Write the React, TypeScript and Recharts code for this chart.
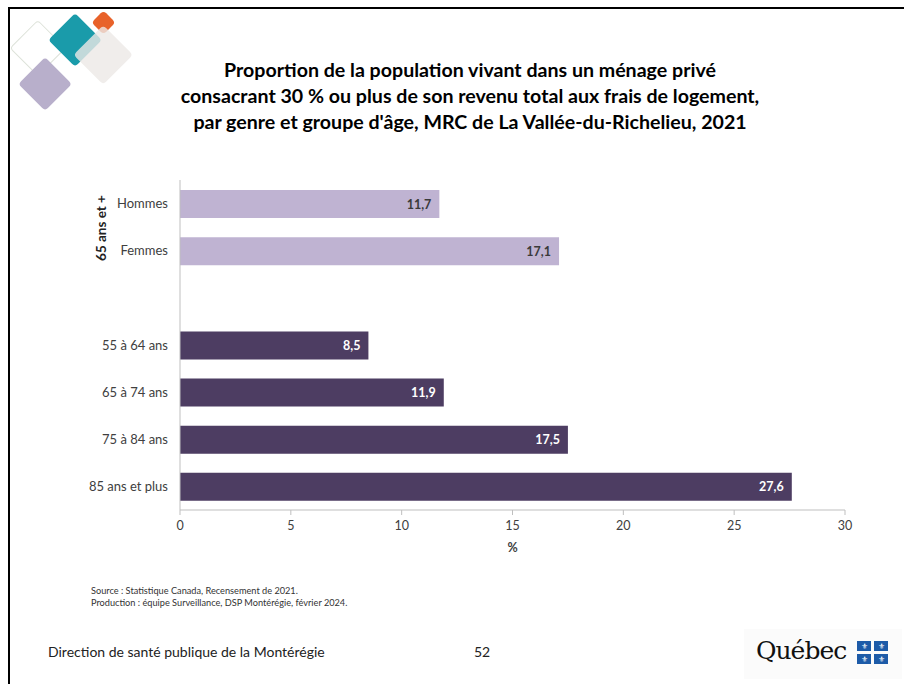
import React from "react";
import { BarChart, Bar, XAxis, YAxis, Cell, LabelList } from "recharts";

// rows, top to bottom; the blank row separates the two groups
const categories = ["Hommes", "Femmes", " ", "55 à 64 ans", "65 à 74 ans", "75 à 84 ans", "85 ans et plus"];
const values: (number | null)[] = [11.7, 17.1, null, 8.5, 11.9, 17.5, 27.6];
const groups = ["sexe", "sexe", "none", "age", "age", "age", "age"];
const xTicks = [0, 5, 10, 15, 20, 25, 30];

const FONT = "Lato, 'Open Sans', sans-serif";
const LIGHT = "#BFB3D2";
const DARK = "#4D3D62";

const data = categories.map((c, i) => ({ cat: c, value: values[i], group: groups[i] }));

const fmt = (v: unknown) => (v == null ? "" : Number(v).toFixed(1).replace(".", ","));

function ValueLabel(props: any) {
  const { x, y, width, height, value, index } = props;
  if (value == null) return null;
  const light = data[index].group === "sexe";
  return (
    <text
      x={x + width - 8}
      y={y + height / 2}
      textAnchor="end"
      dominantBaseline="central"
      fill={light ? "#3A3A3A" : "#FFFFFF"}
      fontSize={12.5}
      fontWeight="bold"
      fontFamily={FONT}
    >
      {fmt(value)}
    </text>
  );
}

function Diamond({ cx, cy, r, color, opacity = 1, outline = false }: any) {
  const s = r * Math.SQRT2;
  return (
    <div
      style={{
        position: "absolute",
        left: cx - s / 2,
        top: cy - s / 2,
        width: s,
        height: s,
        transform: "rotate(45deg)",
        borderRadius: 4,
        background: outline ? "transparent" : color,
        border: outline ? `1.5px solid ${color}` : "none",
        boxSizing: "border-box",
        opacity,
      }}
    />
  );
}

export default function App() {
  return (
    <div style={{ position: "absolute", left: 0, top: 0, width: 904, height: 684, background: "#fff", fontFamily: FONT, overflow: "hidden" }}>
      {/* slide frame */}
      <div style={{ position: "absolute", left: 8, top: 7, width: 896, height: 677, borderTop: "2px solid #000", borderLeft: "2px solid #000" }} />

      {/* corner decoration */}
      <Diamond cx={38} cy={48} r={28} color="#DDE2D9" outline />
      <Diamond cx={45} cy={84} r={27} color="#B8AFCB" />
      <Diamond cx={75} cy={40} r={27} color="#1A9BAA" />
      <Diamond cx={103} cy={22} r={12} color="#E8622A" />
      <Diamond cx={103} cy={55} r={30} color="#ECE8E6" opacity={0.8} />

      <div style={{ position: "absolute", left: 0, top: 57, width: 940, textAlign: "center", fontSize: 19.6, fontWeight: "bold", lineHeight: "26px", color: "#000" }}>
        Proportion de la population vivant dans un ménage privé
        <br />
        consacrant 30 % ou plus de son revenu total aux frais de logement,
        <br />
        par genre et groupe d'âge, MRC de La Vallée-du-Richelieu, 2021
      </div>

      <div style={{ position: "absolute", left: 0, top: 0 }}>
        <BarChart
          width={904}
          height={560}
          layout="vertical"
          data={data}
          margin={{ top: 180, right: 59, bottom: 0, left: 0 }}
          barSize={28}
        >
          <XAxis
            type="number"
            domain={[0, 30]}
            ticks={xTicks}
            interval={0}
            height={50}
            tick={{ fill: "#404040", fontSize: 12.5, fontFamily: FONT }}
            axisLine={{ stroke: "#BFBFBF" }}
            tickLine={{ stroke: "#BFBFBF" }}
            tickSize={5}
            tickMargin={6}
            label={{ value: "%", position: "insideBottom", offset: 8, fill: "#404040", fontSize: 12.5, fontWeight: "bold", fontFamily: FONT }}
          />
          <YAxis
            type="category"
            dataKey="cat"
            width={180}
            tick={{ fill: "#404040", fontSize: 13, fontFamily: FONT }}
            axisLine={{ stroke: "#BFBFBF" }}
            tickLine={false}
            tickMargin={6}
          />
          <Bar dataKey="value" isAnimationActive={false}>
            {data.map((d, i) => (
              <Cell key={i} fill={d.group === "sexe" ? LIGHT : DARK} />
            ))}
            <LabelList dataKey="value" content={<ValueLabel />} />
          </Bar>
        </BarChart>
      </div>

      {/* group label */}
      <div
        style={{
          position: "absolute",
          left: 101,
          top: 228,
          transform: "translate(-50%, -50%) rotate(-90deg)",
          fontSize: 13.5,
          fontWeight: "bold",
          color: "#222",
          whiteSpace: "nowrap",
        }}
      >
        65 ans et +
      </div>

      <div style={{ position: "absolute", left: 91, top: 585, fontSize: 9.2, lineHeight: "12px", color: "#333" }}>
        Source : Statistique Canada, Recensement de 2021.
        <br />
        Production : équipe Surveillance, DSP Montérégie, février 2024.
      </div>

      <div style={{ position: "absolute", left: 48, top: 643, fontSize: 14, color: "#222" }}>
        Direction de santé publique de la Montérégie
      </div>
      <div style={{ position: "absolute", left: 474, top: 643, fontSize: 14, color: "#222" }}>52</div>

      {/* Québec signature */}
      <div style={{ position: "absolute", left: 744, top: 629, width: 158, height: 50, background: "#FBFBFB" }} />
      <div style={{ position: "absolute", left: 756, top: 636, fontSize: 25, fontFamily: "'DejaVu Serif', serif", color: "#111", letterSpacing: -1 }}>
        Québec
      </div>
      <div style={{ position: "absolute", left: 857, top: 641, width: 31, height: 23, display: "grid", gridTemplateColumns: "14px 14px", gridTemplateRows: "10px 10px", gap: "3px" }}>
        {[0, 1, 2, 3].map((k) => (
          <div key={k} style={{ background: "#1D5BA8", color: "#fff", fontSize: 8, lineHeight: "10px", textAlign: "center" }}>
            ⚜
          </div>
        ))}
      </div>
    </div>
  );
}
